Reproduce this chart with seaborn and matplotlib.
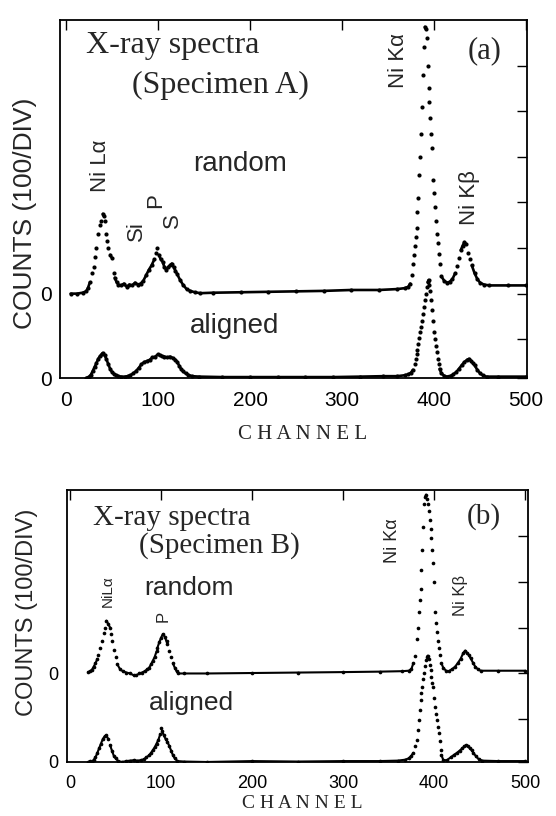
import numpy as np
import pandas as pd
import matplotlib
matplotlib.use("Agg")
import matplotlib.pyplot as plt
import seaborn as sns

# ---------------- data (counts; 1 division = 100 counts) ----------------
# Panel (a) Specimen A, random incidence
a_random_ch = [5, 12, 18, 22, 24, 26, 28, 30, 32, 33, 35, 37, 38, 40, 41, 42, 44, 45, 46, 48, 50,
               52, 53, 55, 57, 60, 63, 66, 69, 72, 75, 78, 81, 84, 87, 90, 93, 96, 98, 99, 101,
               103, 105, 107, 109, 111, 113, 115, 117, 119, 121, 124, 127, 131, 135, 140, 146,
               160, 190, 220, 250, 280, 310, 340, 360, 368, 372, 374, 376, 377, 378, 379, 380,
               381, 382, 383, 384, 385, 386, 387, 388, 389, 390, 391, 392, 393, 394, 395, 396,
               397, 398, 399, 400, 401, 402, 403, 404, 405, 406, 408, 411, 414, 417, 420, 423,
               425, 427, 429, 431, 433, 435, 437, 439, 441, 444, 447, 450, 454, 460, 480, 500]
a_random_counts = [0, 0, 2, 5, 13, 25, 45, 58, 80, 100, 130, 150, 160, 175, 170, 160, 130, 115,
                   100, 85, 78, 45, 35, 25, 20, 18, 22, 15, 20, 18, 24, 20, 22, 28, 40, 52, 62,
                   75, 88, 100, 85, 75, 70, 58, 52, 58, 62, 66, 58, 50, 42, 30, 20, 10, 6, 3, 1,
                   2, 3, 4, 5, 6, 8, 8, 10, 12, 15, 22, 40, 65, 85, 105, 125, 145, 180, 210, 260,
                   300, 350, 410, 480, 540, 585, 580, 560, 500, 450, 420, 385, 350, 320, 250,
                   220, 190, 160, 130, 110, 87, 65, 38, 28, 24, 26, 32, 45, 60, 78, 95, 105, 113,
                   108, 90, 75, 62, 45, 32, 24, 20, 18, 18, 18]

# Panel (a) Specimen A, aligned (channeling) incidence
a_aligned_ch = [22, 25, 27, 29, 31, 33, 35, 37, 39, 40, 42, 44, 46, 48, 50, 52, 54, 57, 60, 64, 67,
                70, 73, 76, 79, 82, 85, 88, 91, 94, 97, 100, 102, 104, 107, 110, 113, 116, 119,
                121, 123, 125, 127, 130, 133, 137, 145, 170, 200, 230, 260, 290, 320, 345, 360,
                368, 372, 375, 377, 379, 380, 381, 382, 383, 384, 385, 386, 387, 388, 389, 390,
                391, 392, 393, 394, 395, 396, 397, 398, 399, 400, 401, 402, 403, 404, 405, 406,
                408, 411, 414, 418, 421, 424, 427, 430, 433, 436, 438, 440, 442, 444, 447, 450,
                453, 457, 470, 500]
a_aligned_counts = [0, 3, 7, 15, 24, 32, 42, 48, 53, 55, 50, 41, 30, 20, 13, 9, 6, 4, 3, 3, 4, 6,
                    10, 15, 22, 30, 35, 37, 40, 45, 47, 52, 50, 48, 47, 45, 47, 44, 40, 35, 27,
                    20, 15, 10, 7, 4, 3, 2, 2, 2, 2, 2, 3, 4, 4, 6, 8, 12, 18, 30, 42, 52, 62, 75,
                    88, 100, 112, 125, 140, 155, 170, 185, 200, 210, 215, 205, 190, 170, 150, 125,
                    100, 85, 70, 58, 42, 30, 20, 10, 5, 3, 5, 8, 13, 20, 28, 35, 40, 42, 38, 33,
                    28, 18, 10, 6, 3, 3, 3]

# Panel (b) Specimen B, random incidence
b_random_ch = [20, 22, 24, 26, 28, 30, 31, 33, 35, 37, 38, 40, 42, 44, 45, 46, 48, 50, 52, 55, 58,
               62, 66, 70, 73, 76, 79, 82, 85, 87, 89, 91, 93, 95, 96, 98, 100, 102, 104, 106,
               107, 109, 111, 113, 115, 117, 119, 125, 150, 200, 250, 300, 340, 365, 372, 375,
               377, 379, 381, 382, 383, 384, 385, 386, 387, 388, 389, 390, 391, 392, 393, 394,
               395, 396, 397, 398, 399, 400, 401, 402, 403, 404, 405, 406, 408, 410, 413, 416,
               420, 423, 426, 429, 432, 434, 436, 438, 440, 443, 445, 448, 451, 470, 500]
b_random_counts = [3, 5, 8, 15, 22, 32, 41, 55, 71, 88, 100, 115, 108, 100, 85, 71, 52, 35, 20, 9,
                   5, 2, 0, -4, -4, 0, 2, 5, 9, 13, 20, 28, 36, 48, 56, 68, 78, 86, 80, 70, 64,
                   50, 35, 22, 13, 5, 0, 0, 0, 1, 2, 3, 4, 5, 6, 10, 22, 39, 76, 100, 133, 160,
                   185, 225, 270, 320, 370, 385, 390, 380, 370, 355, 335, 315, 295, 270, 240, 200,
                   133, 110, 90, 70, 55, 40, 22, 12, 6, 5, 10, 15, 23, 32, 45, 50, 45, 40, 33, 22,
                   15, 9, 6, 6, 6]

# Panel (b) Specimen B, aligned (channeling) incidence
b_aligned_ch = [20, 22, 24, 26, 28, 30, 32, 34, 36, 38, 40, 42, 44, 46, 48, 50, 53, 57, 62, 66, 70,
                74, 78, 81, 84, 87, 89, 91, 93, 95, 97, 99, 100, 101, 103, 105, 107, 109, 111,
                113, 115, 118, 125, 150, 200, 250, 300, 340, 360, 368, 372, 375, 377, 379, 381,
                382, 383, 384, 385, 386, 387, 388, 389, 390, 391, 392, 393, 394, 395, 396, 397,
                398, 399, 400, 401, 402, 403, 404, 405, 406, 407, 408, 410, 414, 418, 422, 425,
                428, 431, 433, 435, 437, 439, 441, 443, 446, 449, 453, 470, 500]
b_aligned_counts = [0, 2, 0, 5, 10, 20, 30, 40, 50, 56, 58, 50, 37, 25, 14, 8, 2, 0, 2, 3, 4, 3,
                    4, 6, 10, 15, 20, 26, 32, 40, 48, 60, 75, 68, 58, 50, 44, 35, 25, 15, 8, 2,
                    1, 0, 2, 1, 2, 2, 3, 5, 8, 14, 20, 34, 48, 70, 91, 113, 135, 150, 164, 180,
                    193, 210, 222, 230, 232, 225, 212, 200, 185, 172, 164, 140, 120, 105, 91, 76,
                    63, 45, 26, 15, 4, 4, 10, 16, 20, 25, 30, 34, 37, 35, 30, 26, 20, 12, 6, 3,
                    2, 2]

x_ticks = [0, 100, 200, 300, 400, 500]
x_tick_labels = ["0", "100", "200", "300", "400", "500"]

# ---------------- style ----------------
sns.set_style("white")
plt.rcParams["font.family"] = ["Liberation Sans", "DejaVu Sans"]
SERIF = ["Liberation Serif", "DejaVu Serif"]

fig = plt.figure(figsize=(5.56, 8.16), dpi=100)
W, H = 556, 816
axA = fig.add_axes([60 / W, 1 - 378 / H, 467 / W, 358 / H])
axB = fig.add_axes([67 / W, 1 - 762 / H, 461 / W, 272 / H])


def draw_spectrum(ax, ch, counts, offset, lw, ms, thr=0.06):
    df = pd.DataFrame({"channel": np.asarray(ch, float),
                       "y": np.asarray(counts, float) / 100.0 + offset})
    slope = np.abs(np.diff(df["y"].values) / np.diff(df["channel"].values))
    df["seg"] = np.concatenate([[0], np.cumsum(slope > thr)])
    sns.lineplot(data=df, x="channel", y="y", units="seg", estimator=None, sort=False,
                 color="black", lw=lw, ax=ax, legend=False)
    sns.scatterplot(data=df, x="channel", y="y", color="black", s=ms, linewidth=0,
                    ax=ax, legend=False, zorder=3)


def style_axes(ax, xlim, ylim, yt, ytl, tick_fs):
    ax.set_xlim(*xlim)
    ax.set_ylim(*ylim)
    ax.set_xticks(x_ticks)
    ax.set_xticklabels(x_tick_labels)
    ax.set_yticks(yt)
    ax.set_yticklabels(ytl)
    ax.tick_params(direction="in", length=7.5, width=1.0, top=True, right=True,
                   labelsize=tick_fs, colors="black")
    ax.tick_params(axis="x", pad=9)
    ax.tick_params(axis="y", pad=6)
    for s in ax.spines.values():
        s.set_visible(True)
        s.set_linewidth(1.3)
        s.set_color("black")


# ---------------- panel (a) ----------------
A_ALIGNED = -1.85
draw_spectrum(axA, a_random_ch, a_random_counts, 0.0, 1.9, 9)
draw_spectrum(axA, a_aligned_ch, a_aligned_counts, A_ALIGNED, 1.9, 9)
style_axes(axA, (-6.5, 501), (A_ALIGNED, 6.0),
           [A_ALIGNED, -1, 0, 1, 2, 3, 4, 5], ["0", "", "0", "", "", "", "", ""], 15)
axA.set_xlabel("C H A N N E L", family=SERIF, fontsize=15)
axA.xaxis.set_label_coords(0.52, -0.13)
axA.set_ylabel("COUNTS (100/DIV)", fontsize=19)
axA.yaxis.set_label_coords(-0.05, 0.46)

axA.text(21.7, 5.44, "X-ray spectra", family=SERIF, fontsize=23, va="center", ha="left")
axA.text(72, 4.56, "(Specimen A)", family=SERIF, fontsize=23, va="center", ha="left")
axA.text(436, 5.33, "(a)", family=SERIF, fontsize=22, va="center", ha="left")
axA.text(138, 2.85, "random", fontsize=20, va="center", ha="left")
axA.text(135, -0.70, "aligned", fontsize=20, va="center", ha="left")
for x, y, s in [(37, 2.8, "Ni L\u03b1"), (77, 1.38, "Si"), (97, 2.04, "P"), (116, 1.6, "S"),
                (361, 5.1, "Ni K\u03b1"), (439, 2.1, "Ni K\u03b2")]:
    axA.text(x, y, s, fontsize=16, rotation=90, va="center", ha="center")

# ---------------- panel (b) ----------------
B_ALIGNED = -1.93
draw_spectrum(axB, b_random_ch, b_random_counts, 0.0, 1.5, 7)
draw_spectrum(axB, b_aligned_ch, b_aligned_counts, B_ALIGNED, 1.5, 7)
style_axes(axB, (-3.3, 503), (B_ALIGNED, 4.0),
           [B_ALIGNED, -1, 0, 1, 2, 3], ["0", "", "0", "", "", ""], 13)
axB.set_xlabel("C H A N N E L", family=SERIF, fontsize=14)
axB.xaxis.set_label_coords(0.51, -0.122)
axB.set_ylabel("COUNTS (100/DIV)", fontsize=17)
axB.yaxis.set_label_coords(-0.062, 0.55)

axB.text(25, 3.40, "X-ray spectra", family=SERIF, fontsize=21, va="center", ha="left")
axB.text(76, 2.80, "(Specimen B)", family=SERIF, fontsize=21, va="center", ha="left")
axB.text(436, 3.43, "(b)", family=SERIF, fontsize=21, va="center", ha="left")
axB.text(81, 1.87, "random", fontsize=19, va="center", ha="left")
axB.text(87, -0.65, "aligned", fontsize=19, va="center", ha="left")
for x, y, s, fs in [(42, 1.8, "NiL\u03b1", 11), (102, 1.24, "P", 12),
                    (354, 2.89, "Ni K\u03b1", 13), (428.6, 1.7, "Ni K\u03b2", 12)]:
    axB.text(x, y, s, fontsize=fs, rotation=90, va="center", ha="center")

fig.savefig("out.png", dpi=100)
